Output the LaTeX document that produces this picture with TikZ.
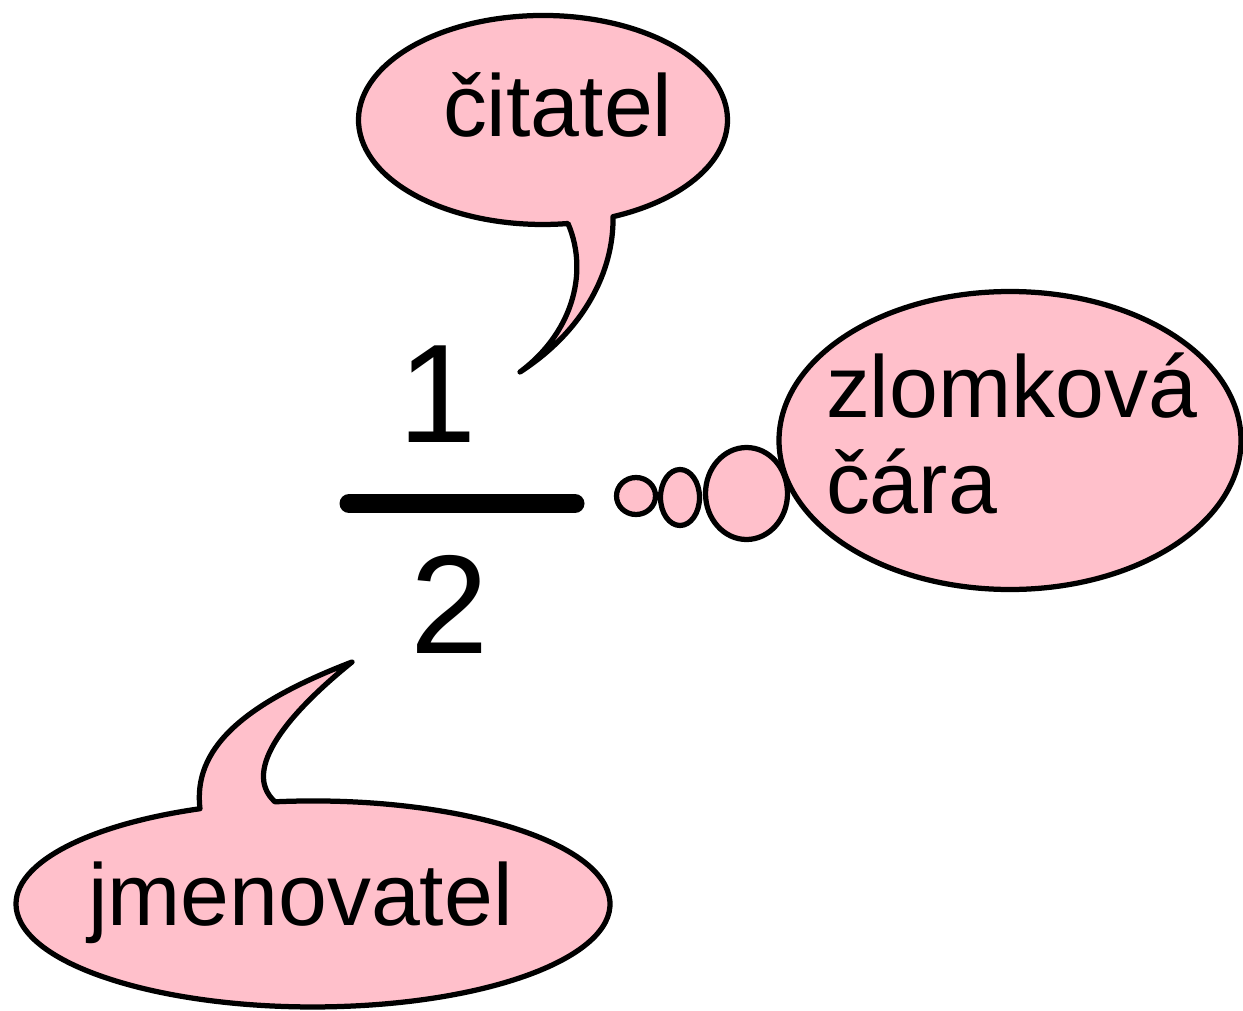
\documentclass[tikz,border=0pt]{standalone}
\usepackage{fontspec}
\setmainfont{Liberation Sans}
\definecolor{bubblepink}{HTML}{FFC0CB}
\begin{document}
\begin{tikzpicture}[x=0.02cm,y=-0.02cm,
  bubble/.style={fill=bubblepink,draw=black,line width=0.105cm,line join=round},
  lbl/.style={inner sep=0pt,outer sep=0pt,anchor=base west,font=\fontsize{50}{54.6}\selectfont,align=left},
  digit/.style={inner sep=0pt,outer sep=0pt,anchor=base west,font=\fontsize{80}{90}\selectfont},
  fracbar/.style={line width=0.38cm,line cap=round,draw=black}]
\useasboundingbox (0,0) rectangle (1243,1010);

% callout: citatel
\draw[bubble] (568,223.5) arc[start angle=82.21, end angle=427.70, x radius=184.5, y radius=104.5]
  .. controls (614,270) and (585,330) .. (520,372)
  .. controls (570,335) and (590,275) .. (568,223.5) -- cycle;

% callout: jmenovatel
\draw[bubble] (275,801.8) arc[start angle=262.65, end angle=607.63, x radius=297, y radius=103]
  .. controls (193,750) and (240,705) .. (352,662)
  .. controls (290,712) and (240,770) .. (275,801.8) -- cycle;

% thought bubble: zlomkova cara
\draw[bubble] (1010,440.5) ellipse [x radius=231, y radius=149];
\draw[bubble] (746.5,493.5) ellipse [x radius=41, y radius=46];
\draw[bubble] (680,497.5) ellipse [x radius=19.5, y radius=28];
\draw[bubble] (636,496) ellipse [x radius=19.5, y radius=18.5];

% texts
\node[lbl] (citatel) at (443,137) {čitatel};
\node[lbl] (jmenovatel) at (88,925) {jmenovatel};
\node[lbl] (zlomkova) at (826,513) {zlomková\\čára};

% fraction
\node[digit] (one) at (398,442) {1};
\node[digit] (two) at (410,653) {2};
\coordinate (barL) at (349,503.5);
\coordinate (barR) at (575,503.5);
\draw[fracbar] (barL) -- (barR);
\end{tikzpicture}
\end{document}
